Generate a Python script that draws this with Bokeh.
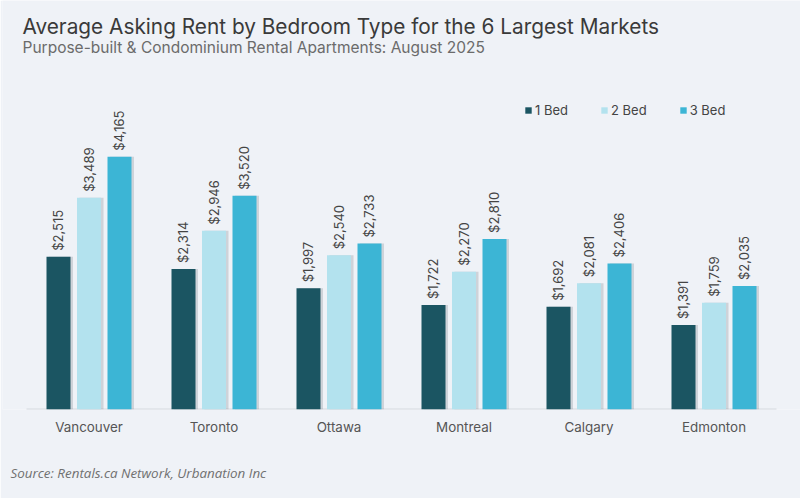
from bokeh.plotting import figure
from bokeh.models import ColumnDataSource, Range1d, LabelSet, Label, Legend, LegendItem, Title
from bokeh.transform import dodge
from bokeh.core.properties import value
from bokeh.embed import file_html
from bokeh.resources import INLINE
import math

cities = ["Vancouver", "Toronto", "Ottawa", "Montreal", "Calgary", "Edmonton"]
bed1 = [2515, 2314, 1997, 1722, 1692, 1391]
bed2 = [3489, 2946, 2540, 2270, 2081, 1759]
bed3 = [4165, 3520, 2733, 2810, 2406, 2035]
series_names = ["1 Bed", "2 Bed", "3 Bed"]
colors = ["#1b5562", "#b3e2ee", "#3cb5d5"]

BG = "#eff2f7"
FONT = "Inter"

data = dict(city=cities, b1=bed1, b2=bed2, b3=bed3)
for k, vals in (("b1", bed1), ("b2", bed2), ("b3", bed3)):
    data[k + "_lab"] = ["${:,}".format(v) for v in vals]
src = ColumnDataSource(data)

p = figure(x_range=cities, y_range=Range1d(0, 6738), width=800, height=498,
           output_backend="svg", toolbar_location=None,
           min_border_left=2, min_border_right=0, min_border_top=0, min_border_bottom=89,
           background_fill_color=BG, border_fill_color=BG)
p.outline_line_color = None
p.xgrid.grid_line_color = None
p.ygrid.grid_line_color = None
p.yaxis.visible = False
p.x_range.range_padding = 0.192
p.x_range.range_padding_units = "absolute"

ax = p.xaxis[0]
ax.axis_line_color = None
ax.major_tick_line_color = None
ax.minor_tick_line_color = None
ax.major_label_text_font = FONT
ax.major_label_text_font_size = "13.4px"
ax.major_label_text_color = "#555555"
ax.major_label_standoff = 3

# baseline under the groups
base = ColumnDataSource(dict(c0=[cities[0]], c1=[cities[-1]], y=[0]))
p.segment(x0=dodge("c0", -0.5, range=p.x_range), x1=dodge("c1", 0.5, range=p.x_range),
          y0="y", y1="y", source=base, line_color="#d6dadf", line_width=2)

offsets = [-0.244, 0.0, 0.244]
keys = ["b1", "b2", "b3"]
W = 0.192
renderers = []
for off, key, col in zip(offsets, keys, colors):
    p.vbar(x=dodge("city", off + 0.02, range=p.x_range), top=key, width=W, bottom=0,
           source=src, fill_color="#5a6470", fill_alpha=0.22, line_color=None)
    r = p.vbar(x=dodge("city", off, range=p.x_range), top=key, width=W, bottom=0,
               source=src, fill_color=col, line_color=None)
    renderers.append(r)
    labels = LabelSet(x=dodge("city", off, range=p.x_range), y=key, text=key + "_lab",
                      source=src, angle=math.pi / 2, text_align="left", text_baseline="middle",
                      y_offset=6, text_font=value(FONT), text_font_size="13px",
                      text_color="#444444")
    p.add_layout(labels)

legend = Legend(items=[LegendItem(label=n, renderers=[r]) for n, r in zip(series_names, renderers)],
                orientation="horizontal", location=(522, 291), background_fill_alpha=0,
                border_line_color=None, glyph_width=8, glyph_height=8, label_standoff=3,
                spacing=32, padding=0, margin=0, label_text_font=FONT,
                label_text_font_size="13px", label_text_color="#444444")
p.add_layout(legend)

p.add_layout(Label(x=20, y=383, x_units="screen", y_units="screen",
                   text="Average Asking Rent by Bedroom Type for the 6 Largest Markets",
                   text_font=FONT, text_font_size="20.8px", text_color="#3a3a3a",
                   text_baseline="alphabetic"))
p.add_layout(Label(x=20, y=362, x_units="screen", y_units="screen",
                   text="Purpose-built & Condominium Rental Apartments: August 2025",
                   text_font=FONT, text_font_size="15.5px", text_color="#6b6b6b",
                   text_baseline="alphabetic"))

spacer = Title(text=" ", text_font_size="6px", standoff=0, text_color=BG)
p.add_layout(spacer, "below")
src_title = Title(text="Source: Rentals.ca Network, Urbanation Inc", align="left",
                  offset=8, standoff=32, text_font="Open Sans", text_font_size="13.4px",
                  text_font_style="italic", text_color="#707070")
p.add_layout(src_title, "below")

open("out.html", "w").write(file_html(p, INLINE))
